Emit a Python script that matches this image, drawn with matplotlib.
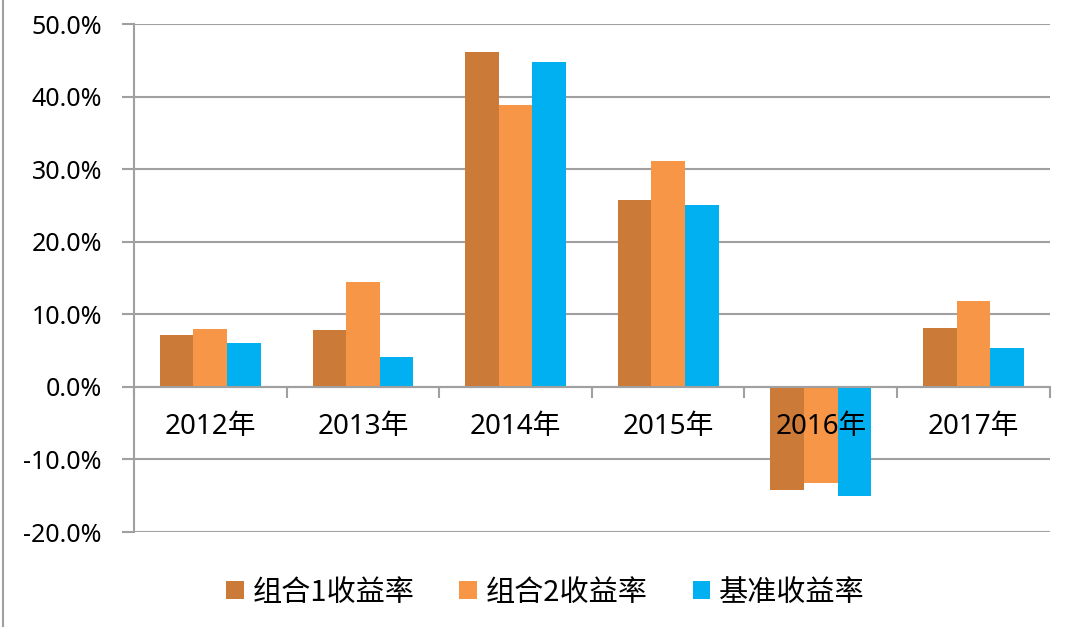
import numpy as np
import matplotlib.pyplot as plt
from matplotlib.ticker import FuncFormatter
from matplotlib.lines import Line2D

years = ['2012年', '2013年', '2014年', '2015年', '2016年', '2017年']
combo1 = [7.2, 7.9, 46.1, 25.8, -14.2, 8.1]
combo2 = [8.0, 14.4, 38.9, 31.1, -13.3, 11.8]
bench = [6.1, 4.1, 44.7, 25.0, -15.1, 5.3]
series_names = ['组合1收益率', '组合2收益率', '基准收益率']
colors = ['#CC7A38', '#F79646', '#00B0F0']

fig = plt.figure(figsize=(10.8, 6.27), dpi=100)
ax = fig.add_axes([0.124, 0.1515, 0.848, 0.8102])

x = np.arange(len(years))
w = 0.22
for i, (vals, col, name) in enumerate(zip([combo1, combo2, bench], colors, series_names)):
    ax.bar(x + (i - 1) * w, vals, width=w, color=col, label=name, zorder=3)

ax.set_xlim(-0.5, len(years) - 0.5)
ax.set_ylim(-20, 50)
ax.set_yticks(np.arange(-20, 51, 10))
ax.yaxis.set_major_formatter(FuncFormatter(lambda v, p: f'{v:.1f}%'))
ax.grid(axis='y', color='#A0A0A0', linewidth=1.5, zorder=1)

grey = '#A0A0A0'
for s in ['top', 'right']:
    ax.spines[s].set_visible(False)
ax.spines['left'].set_color(grey)
ax.spines['left'].set_linewidth(1.5)
ax.spines['bottom'].set_position(('data', 0))
ax.spines['bottom'].set_color(grey)
ax.spines['bottom'].set_linewidth(1.5)
ax.spines['bottom'].set_zorder(4)

# category boundary ticks below the zero line, labels at centers
ax.set_xticks(np.arange(-0.5, len(years), 1.0))
ax.set_xticklabels([])
ax.set_xticks(x, minor=True)
ax.set_xticklabels(years, minor=True, fontsize=20,
                   family=['Noto Sans', 'Noto Sans CJK SC'])
ax.tick_params(axis='x', which='major', direction='out', length=8,
               width=1.5, color=grey)
ax.tick_params(axis='x', which='minor', length=0, pad=19)
ax.tick_params(axis='y', direction='out', length=9, width=1.5, color=grey,
               pad=14, labelsize=18)
for t in ax.get_yticklabels():
    t.set_family('Noto Sans')
ax.xaxis.set_zorder(5)

leg = fig.legend(loc='center', bbox_to_anchor=(0.505, 0.055), ncol=3,
                 frameon=False, prop={'family': 'Noto Sans CJK SC', 'size': 21},
                 handlelength=0.6, handleheight=0.6, handletextpad=0.3,
                 columnspacing=1.55)

# thin grey frame line at the left edge
fig.add_artist(Line2D([0.003, 0.003], [0, 1], color='#A0A0A0', linewidth=1.5,
                      transform=fig.transFigure))

fig.savefig('out.png', dpi=100)
